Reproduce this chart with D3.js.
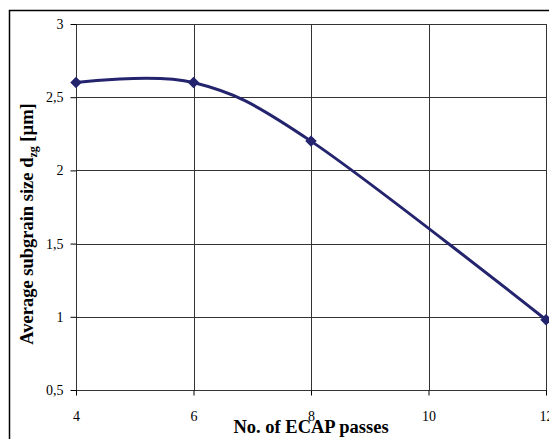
<!DOCTYPE html>
<html>
<head>
<meta charset="utf-8">
<script src="https://cdn.jsdelivr.net/npm/d3@7"></script>
<style>
  body { margin: 0; background: #fff; }
  svg { display: block; }
  text { font-family: "Liberation Serif", "Times New Roman", serif; fill: #000; }
</style>
</head>
<body>
<svg id="chart" width="549" height="439"></svg>
<script>
// data
var passes = [4, 6, 8, 12];
var subgrain = [2.6, 2.6, 2.2, 0.98];
var xTicks = [4, 6, 8, 10, 12];
var yTicks = [0.5, 1, 1.5, 2, 2.5, 3];

var svg = d3.select('#chart');
// plot area edges (note: "top" is taken by window.top)
var pLeft = 76, pRight = 546, pTop = 24, pBottom = 390;

var x = d3.scaleLinear().domain([4, 12]).range([pLeft, pRight]);
var y = d3.scaleLinear().domain([0.5, 3]).range([pBottom, pTop]);

// outer frame (cut off at right and bottom)
svg.append('rect')
  .attr('x', 9.5).attr('y', 10.5)
  .attr('width', 560).attr('height', 450)
  .style('fill', 'none')
  .style('stroke', '#000')
  .style('stroke-width', 1.5);

// gridlines
svg.append('g')
  .selectAll('line')
  .data(xTicks)
  .enter()
  .append('line')
  .attr('x1', (d) => Math.round(x(d)) + 0.5)
  .attr('x2', (d) => Math.round(x(d)) + 0.5)
  .attr('y1', pTop).attr('y2', pBottom)
  .style('stroke', '#333')
  .style('stroke-width', 1);

svg.append('g')
  .selectAll('line')
  .data(yTicks)
  .enter()
  .append('line')
  .attr('x1', pLeft).attr('x2', pRight + 1)
  .attr('y1', (d) => Math.round(y(d)) + 0.5)
  .attr('y2', (d) => Math.round(y(d)) + 0.5)
  .style('stroke', '#333')
  .style('stroke-width', 1);

// axes
var fmt = (d) => String(d).replace('.', ',');

var xAxis = svg.append('g')
  .attr('transform', 'translate(0,' + (Math.round(pBottom) + 0.5) + ')')
  .call(d3.axisBottom(x).tickValues(xTicks).tickFormat(fmt).tickSize(5).tickPadding(16));
var yAxis = svg.append('g')
  .attr('transform', 'translate(' + (pLeft + 0.5) + ',0)')
  .call(d3.axisLeft(y).tickValues(yTicks).tickFormat(fmt).tickSize(6).tickPadding(7));

[xAxis, yAxis].forEach((g) => {
  g.select('.domain').remove();
  g.selectAll('line').style('stroke', '#000');
  g.selectAll('text')
    .style('font-family', '"Liberation Serif", serif')
    .style('font-size', '14px')
    .style('fill', '#000');
});

// the smoothed series
var pts = passes.map((p, i) => [p, subgrain[i]]);
var line = d3.line()
  .x((d) => x(d[0]))
  .y((d) => y(d[1]))
  .curve(d3.curveCardinal.tension(0));

svg.append('path')
  .datum(pts)
  .attr('d', line)
  .style('fill', 'none')
  .style('stroke', '#24246e')
  .style('stroke-width', 3);

svg.append('g')
  .selectAll('path')
  .data(pts)
  .enter()
  .append('path')
  .attr('d', d3.symbol().type(d3.symbolSquare).size(66))
  .attr('transform', (d) => 'translate(' + x(d[0]) + ',' + y(d[1]) + ') rotate(45)')
  .style('fill', '#24246e');

// axis titles
svg.append('text')
  .attr('x', 311)
  .attr('y', 433)
  .attr('text-anchor', 'middle')
  .style('font-weight', 'bold')
  .style('font-size', '18.5px')
  .text('No. of ECAP passes');

var yt = svg.append('text')
  .attr('transform', 'translate(33,' + 224 + ') rotate(-90)')
  .attr('text-anchor', 'middle')
  .style('font-weight', 'bold')
  .style('font-size', '18.5px');
yt.append('tspan').text('Average subgrain size d');
yt.append('tspan').attr('dy', 4).style('font-size', '12px').text('zg');
yt.append('tspan').attr('dy', -4).text(' [µm]');
</script>
</body>
</html>
